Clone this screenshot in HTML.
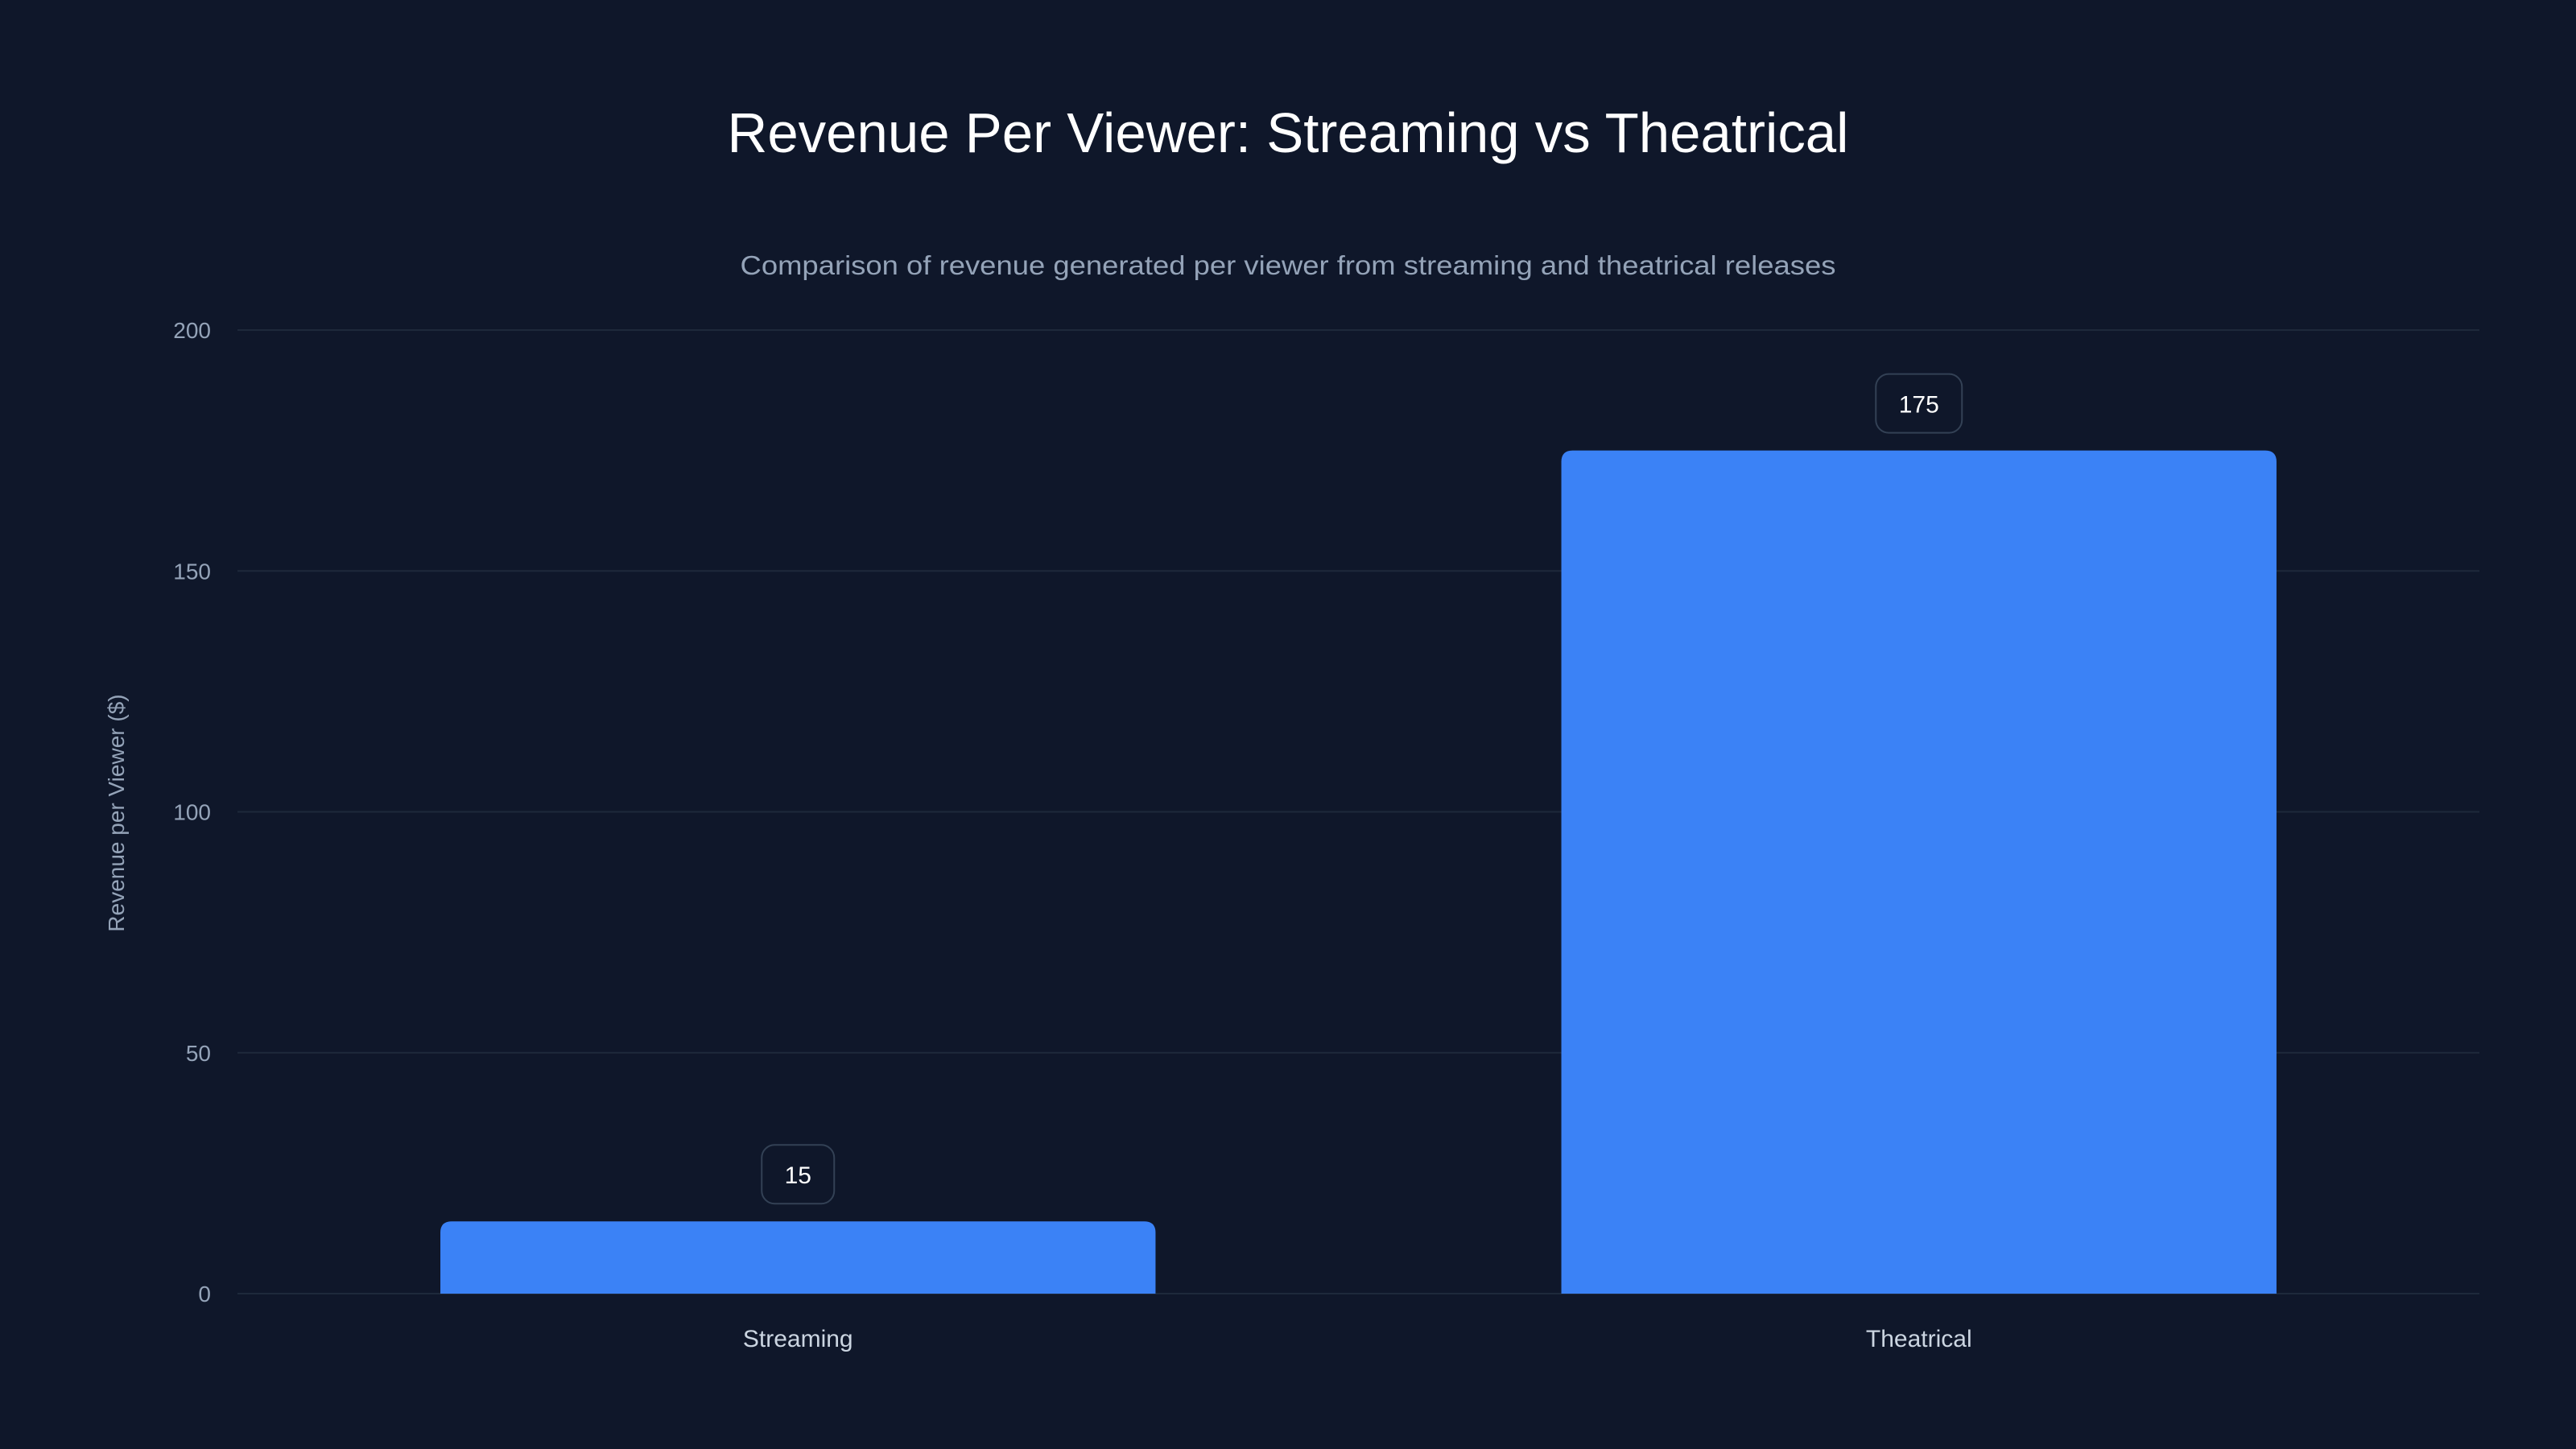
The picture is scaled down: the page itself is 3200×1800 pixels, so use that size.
<!DOCTYPE html>
<html><head><meta charset="utf-8"><style>
html,body{margin:0;padding:0;background:#0f172a;}
svg{display:block;font-family:"Liberation Sans",sans-serif;}
</style></head><body>
<svg id="chart" width="3200" height="1800" viewBox="0 0 3200 1800">
<rect width="3200" height="1800" fill="#0f172a"/>
<text x="1600" y="189" text-anchor="middle" font-size="70" fill="#ffffff" textLength="1393" lengthAdjust="spacingAndGlyphs">Revenue Per Viewer: Streaming vs Theatrical</text>
<text x="1600" y="341" text-anchor="middle" font-size="33" fill="#94a3b8" textLength="1361" lengthAdjust="spacingAndGlyphs">Comparison of revenue generated per viewer from streaming and theatrical releases</text>
<text transform="translate(154,1010) rotate(-90)" text-anchor="middle" font-size="28" fill="#94a3b8">Revenue per Viewer ($)</text>
<g id="grid"></g><g id="bars"></g><g id="labels"></g>
</svg>
<script>
const categories = ["Streaming", "Theatrical"];
const values = [15, 175];
const yTicks = [0, 50, 100, 150, 200];
const plotL = 295, plotR = 3080, plotT = 410, plotB = 1607, yMax = 200;
const ns = "http://www.w3.org/2000/svg";
function y(v){ return plotB - (v / yMax) * (plotB - plotT); }
const band = (plotR - plotL) / categories.length;
function xc(i){ return plotL + band * (i + 0.5); }
const barW = band * 0.638;
function mk(tag, attrs, parent){ const e = document.createElementNS(ns, tag); for (const k in attrs) e.setAttribute(k, attrs[k]); parent.appendChild(e); return e; }
const grid = document.getElementById('grid'), bars = document.getElementById('bars'), labels = document.getElementById('labels');
yTicks.forEach(t => {
  const l = mk('line', {x1: plotL, x2: plotR, y1: y(t), y2: y(t), stroke: '#1e293b', 'stroke-width': 2}, grid);
  
  
  const tx = mk('text', {x: 262, y: y(t) + 10, 'text-anchor': 'end', 'font-size': 28, fill: '#94a3b8'}, grid);
  tx.textContent = t;
  
  
});
categories.forEach((c, i) => {
  const x0 = xc(i) - barW / 2, yt = y(values[i]), r = 14;
  const d = `M${x0},${plotB} L${x0},${yt + r} Q${x0},${yt} ${x0 + r},${yt} L${x0 + barW - r},${yt} Q${x0 + barW},${yt} ${x0 + barW},${yt + r} L${x0 + barW},${plotB} Z`;
  const b = mk('path', {d: d, fill: '#3b82f6'}, bars);
  
  
  const bw = String(values[i]).length * 17 + 56;
  const bx = mk('rect', {x: xc(i) - bw / 2, y: yt - 95, width: bw, height: 73, rx: 16, fill: '#0f172a', stroke: '#334155', 'stroke-width': 2}, labels);
  
  
  const vt = mk('text', {x: xc(i), y: yt - 47, 'text-anchor': 'middle', 'font-size': 30, fill: '#ffffff'}, labels);
  vt.textContent = values[i];
  
  
  const ct = mk('text', {x: xc(i), y: 1673, 'text-anchor': 'middle', 'font-size': 30, fill: '#cbd5e1'}, labels);
  ct.textContent = c;
  
  
});
</script>
</body></html>
